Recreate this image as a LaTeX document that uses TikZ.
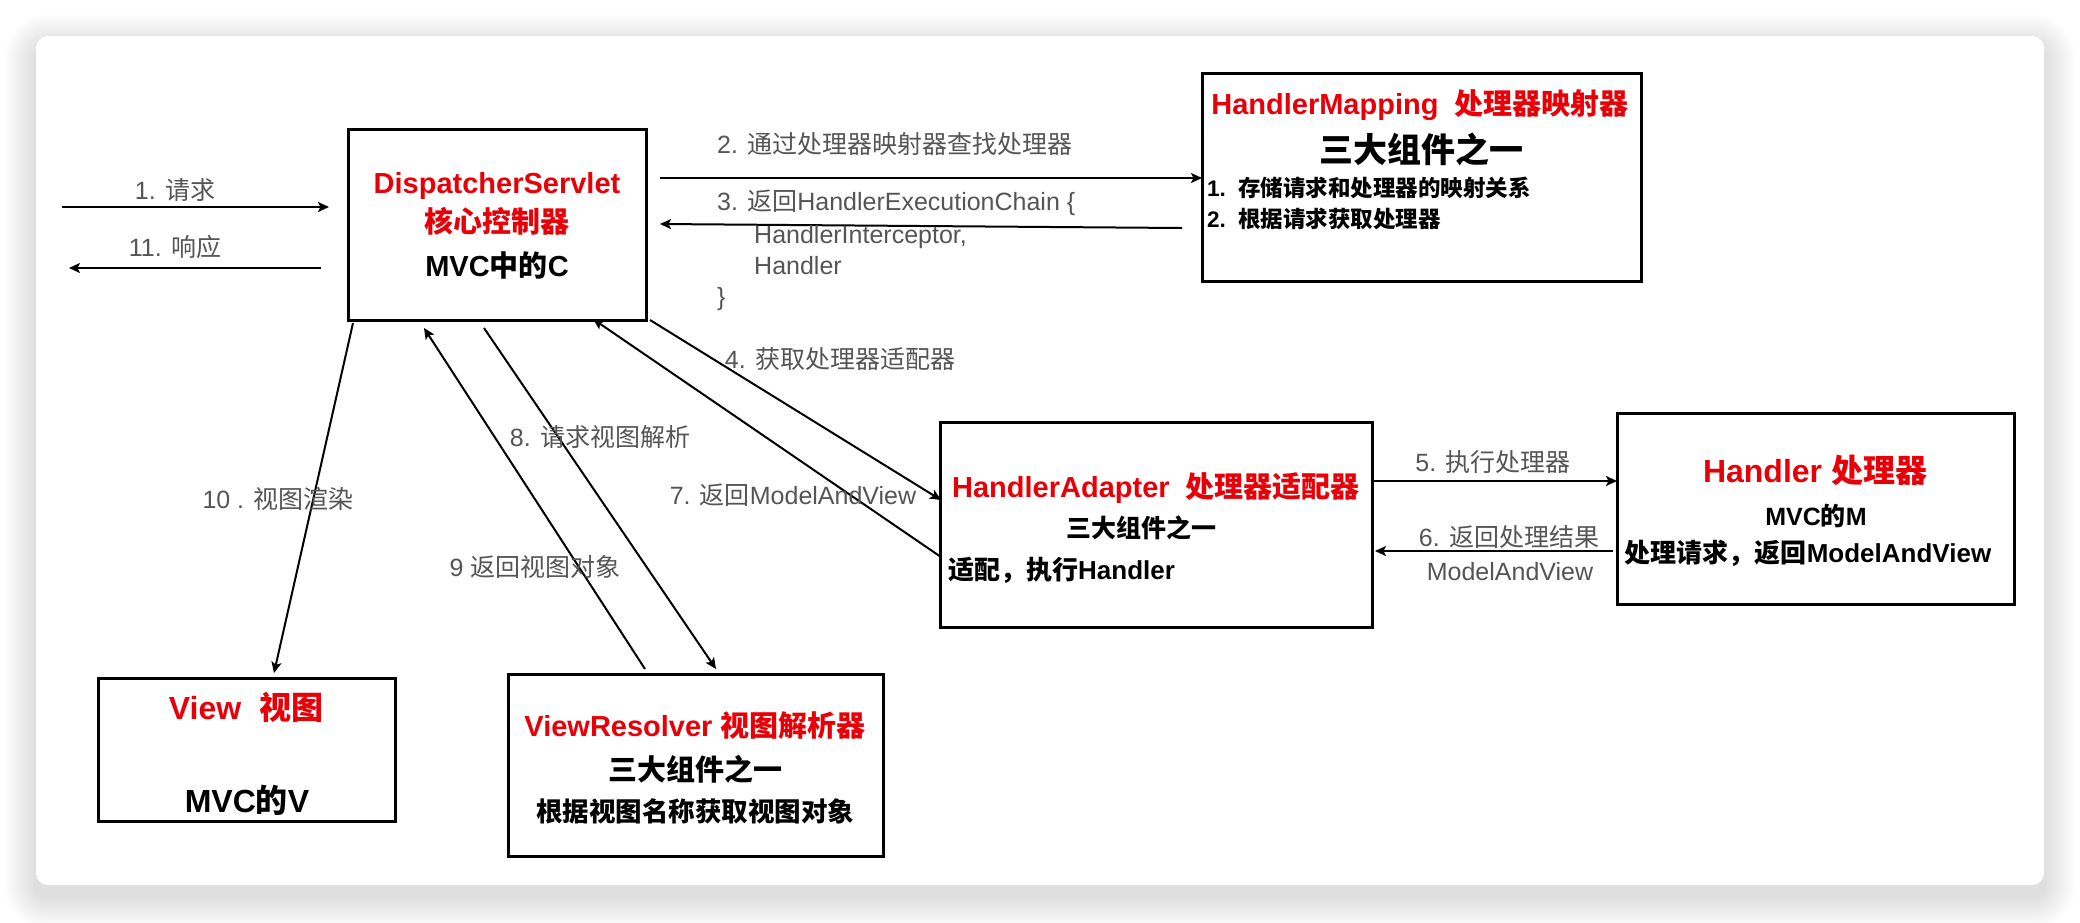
\documentclass[tikz,border=0pt]{standalone}
\usepackage{fontspec}
\setmainfont{Liberation Sans}
\newfontfamily\cjk{Noto Sans CJK SC}
\usetikzlibrary{arrows.meta,calc}
\definecolor{titlered}{RGB}{232,0,8}
\definecolor{labelgray}{RGB}{85,85,85}
\newcommand{\fs}[1]{\fontsize{#1}{#1}\selectfont}

\begin{document}
\begin{tikzpicture}[x=1pt,y=-1pt,
  box/.style={draw=black, line width=3pt, rectangle, outer sep=0pt, inner sep=0pt},
  arr/.style={line width=2pt, -{Stealth[length=11pt,width=10pt,inset=2.5pt]}},
  lbl/.style={text=labelgray, font=\fs{25}, inner sep=0pt},
  ttl/.style={text=titlered, inner sep=0pt, anchor=base},
  txt/.style={text=black, inner sep=0pt, anchor=base},
]
% page and card with soft shadow
\fill[white] (0,0) rectangle (2080,922);
\useasboundingbox (0,0) rectangle (2080,922);
\foreach \i [evaluate=\i as \r using 12+\i] in {1,...,32}
  \fill[black, opacity=0.0048, rounded corners=\r pt]
    ({36-\i},{46-\i}) rectangle ({2044+\i},{897+\i});
\fill[white, rounded corners=12pt] (36,36) rectangle (2044,885);

% boxes
\node[box, minimum width=298pt, minimum height=191pt] (ds) at (497,224.5) {};
\node[box, minimum width=439pt, minimum height=208pt] (hm) at (1421.5,177) {};
\node[box, minimum width=432pt, minimum height=205pt] (ha) at (1156,524.5) {};
\node[box, minimum width=397pt, minimum height=191pt] (hd) at (1815.5,508.5) {};
\node[box, minimum width=297pt, minimum height=143pt] (vw) at (246.5,749.5) {};
\node[box, minimum width=375pt, minimum height=182pt] (vr) at (695.5,765) {};

% DispatcherServlet
\node[ttl, font=\bfseries\fs{29}] (dsA) at (497,193) {DispatcherServlet};
\node[ttl, font=\bfseries\fs{29}] (dsB) at (497,232) {\cjk 核心控制器};
\node[txt, font=\bfseries\fs{29}] (dsC) at (497,276) {MVC{\cjk 中的}C};

% HandlerMapping
\node[ttl, font=\bfseries\fs{29}] (hmA) at (1420,114) {HandlerMapping\ \ {\cjk 处理器映射器}};
\node[txt, font=\bfseries\fs{34}] (hmB) at (1421,162) {\cjk 三大组件之一};
\node[txt, font=\bfseries\fs{22.5}, anchor=base west] (hmC) at (1207,196) {1.\ \ {\cjk 存储请求和处理器的映射关系}};
\node[txt, font=\bfseries\fs{22.5}, anchor=base west] (hmD) at (1207,227) {2.\ \ {\cjk 根据请求获取处理器}};

% HandlerAdapter
\node[ttl, font=\bfseries\fs{29}] (haA) at (1156,497) {HandlerAdapter\ \ {\cjk 处理器适配器}};
\node[txt, font=\bfseries\fs{25}] (haB) at (1141,537) {\cjk 三大组件之一};
\node[txt, font=\bfseries\fs{26}, anchor=base west] (haC) at (948,579) {{\cjk 适配，执行}Handler};

% Handler
\node[ttl, font=\bfseries\fs{32}] (hdA) at (1815,482) {Handler {\cjk 处理器}};
\node[txt, font=\bfseries\fs{25}] (hdB) at (1816,525) {MVC{\cjk 的}M};
\node[txt, font=\bfseries\fs{26}] (hdC) at (1808,562) {{\cjk 处理请求，返回}ModelAndView};

% View
\node[ttl, font=\bfseries\fs{32}] (vwA) at (246,719) {View\ \ {\cjk 视图}};
\node[txt, font=\bfseries\fs{32}] (vwB) at (247,812) {MVC{\cjk 的}V};

% ViewResolver
\node[ttl, font=\bfseries\fs{29}] (vrA) at (695,736) {ViewResolver {\cjk 视图解析器}};
\node[txt, font=\bfseries\fs{29}] (vrB) at (695,780) {\cjk 三大组件之一};
\node[txt, font=\bfseries\fs{26.5}] (vrC) at (695,821) {\cjk 根据视图名称获取视图对象};

% free ends of the request / response arrows
\coordinate (client-in) at (62,207);
\coordinate (client-out) at (69,268);

% connectors
\draw[arr] (client-in) -- ($(ds.north west)+(-19,78)$);
\draw[arr] ($(ds.north west)+(-27,139)$) -- (client-out);
\draw[arr] ($(ds.north east)+(14,49)$) -- ($(hm.north west)+(0,105)$);
\draw[arr] ($(hm.north west)+(-20,155)$) -- ($(ds.north east)+(14,95)$);
\draw[arr] ($(ds.south east)+(4,0)$) -- ($(ha.north west)+(1,78)$);
\draw[arr] ($(ha.north west)+(1,135)$) -- ($(ds.south west)+(245,-1)$);
\draw[arr] ($(ds.south west)+(136,8)$) -- ($(vr.north west)+(208,-5)$);
\draw[arr] ($(vr.north west)+(137,-5)$) -- ($(ds.south west)+(76,8)$);
\draw[arr] ($(ds.south west)+(5,3)$) -- ($(vw.north west)+(176,-5)$);
\draw[arr] ($(ha.north east)+(0,59)$) -- ($(hd.north west)+(0,68)$);
\draw[arr] ($(hd.north west)+(-4,138)$) -- ($(ha.north east)+(3,129)$);

% connector labels
\node[lbl, anchor=base] (l1) at (175,199) {1. {\cjk 请求}};
\node[lbl, anchor=base] (l11) at (175,256) {11. {\cjk 响应}};
\node[lbl, anchor=base west] (l2) at (717,153) {2. {\cjk 通过处理器映射器查找处理器}};
\node[lbl, anchor=base west] (l3a) at (717,210) {3. {\cjk 返回}HandlerExecutionChain \{};
\node[lbl, anchor=base west] (l3b) at (754,243) {HandlerInterceptor,};
\node[lbl, anchor=base west] (l3c) at (754,274) {Handler};
\node[lbl, anchor=base west] (l3d) at (717,305) {\}};
\node[lbl, anchor=base] (l4) at (840,368) {4. {\cjk 获取处理器适配器}};
\node[lbl, anchor=base] (l7) at (793,504) {7. {\cjk 返回}ModelAndView};
\node[lbl, anchor=base] (l8) at (600,446) {8. {\cjk 请求视图解析}};
\node[lbl, anchor=base] (l9) at (535,576) {9 {\cjk 返回视图对象}};
\node[lbl, anchor=base] (l10) at (278,508) {10 . {\cjk 视图渲染}};
\node[lbl, anchor=base] (l5) at (1493,471) {5. {\cjk 执行处理器}};
\node[lbl, anchor=base] (l6a) at (1509,546) {6. {\cjk 返回处理结果}};
\node[lbl, anchor=base] (l6b) at (1510,580) {ModelAndView};
\end{tikzpicture}
\end{document}
